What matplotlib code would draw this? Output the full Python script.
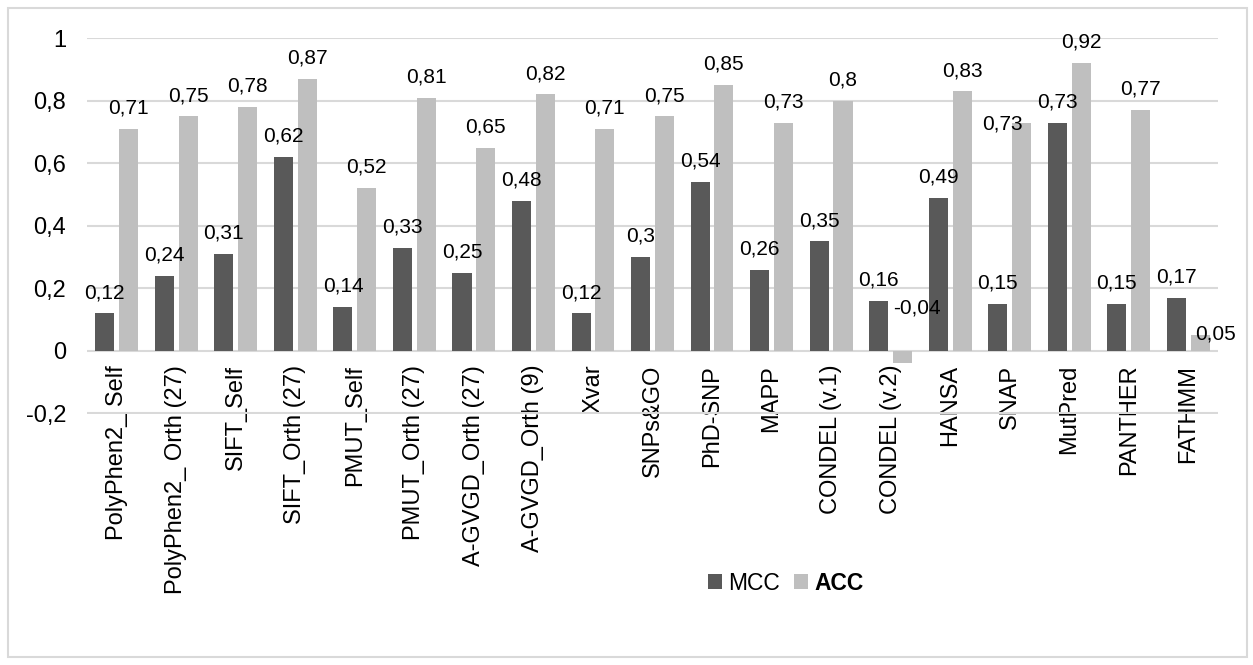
import matplotlib.pyplot as plt
import numpy as np
from matplotlib.patches import Rectangle

plt.rcParams['font.family'] = ['Liberation Sans', 'DejaVu Sans']

# tools compared
tools = ['PolyPhen2_ Self', 'PolyPhen2_ Orth (27)', 'SIFT_Self', 'SIFT_Orth (27)',
         'PMUT_Self', 'PMUT_Orth (27)', 'A-GVGD_Orth (27)', 'A-GVGD_Orth (9)',
         'Xvar', 'SNPs&GO', 'PhD-SNP', 'MAPP', 'CONDEL (v.1)', 'CONDEL (v.2)',
         'HANSA', 'SNAP', 'MutPred', 'PANTHER', 'FATHMM']
mcc = [0.12, 0.24, 0.31, 0.62, 0.14, 0.33, 0.25, 0.48, 0.12, 0.30,
       0.54, 0.26, 0.35, 0.16, 0.49, 0.15, 0.73, 0.15, 0.17]
acc = [0.71, 0.75, 0.78, 0.87, 0.52, 0.81, 0.65, 0.82, 0.71, 0.75,
       0.85, 0.73, 0.80, -0.04, 0.83, 0.73, 0.92, 0.77, 0.05]
yticks = [-0.2, 0, 0.2, 0.4, 0.6, 0.8, 1]

DARK = '#595959'
LIGHT = '#bfbfbf'
GRID = '#d9d9d9'


def fmt(v):
    return f'{v:g}'.replace('.', ',')


fig = plt.figure(figsize=(12.53, 6.65), dpi=100)
# chart frame
fig.patches.append(Rectangle((8 / 1253, 8 / 665), 1239 / 1253, 649 / 665,
                             transform=fig.transFigure, fill=False,
                             edgecolor=GRID, linewidth=1.5))

ax = fig.add_axes([87 / 1253, 1 - 413.6 / 665, 1131 / 1253, (413.6 - 38) / 665])
# category labels hang from the zero line
ax.spines['bottom'].set_position(('data', 0))

x = np.arange(len(tools))
w = 0.32
off = 0.20
b1 = ax.bar(x - off, mcc, w, color=DARK, label='MCC', zorder=3)
b2 = ax.bar(x + off, acc, w, color=LIGHT, label='ACC', zorder=3)

ax.set_xlim(-0.5, len(tools) - 0.5)
ax.set_ylim(-0.2005, 1.0005)
ax.set_yticks(yticks)
ax.set_yticklabels([fmt(t) for t in yticks])
ax.set_xticks(x)
ax.set_xticklabels(tools)
ax.tick_params(axis='both', length=0, labelsize=17)
ax.tick_params(axis='y', pad=15)
ax.tick_params(axis='x', pad=10, labelrotation=90)
ax.yaxis.grid(True, color=GRID, linewidth=1.5, zorder=0)
ax.set_axisbelow(True)
for s in ax.spines.values():
    s.set_visible(False)

# value labels
for i in range(len(tools)):
    ax.annotate(fmt(mcc[i]), (x[i] - off, mcc[i]), xytext=(0, 11),
                textcoords='offset points', ha='center', va='baseline', fontsize=15)
    a = acc[i]
    nxt = mcc[i + 1] if i + 1 < len(tools) else None
    if a < 0:
        # negative bar: label sits above the zero line
        ax.annotate(fmt(a), (x[i] + off - w / 2, 0), xytext=(0, 31),
                    textcoords='offset points', ha='left', va='center', fontsize=15)
    elif a < mcc[i]:
        # short bar next to a taller one: label to the right
        ax.annotate(fmt(a), (x[i] + off - w / 2, a), xytext=(3, 1),
                    textcoords='offset points', ha='left', va='center', fontsize=15)
    elif nxt is not None and abs(a - nxt) < 0.05:
        # would clash with the next MCC label: label to the left
        ax.annotate(fmt(a), (x[i] + off, a), xytext=(1, -1),
                    textcoords='offset points', ha='right', va='center', fontsize=15)
    else:
        ax.annotate(fmt(a), (x[i] + off, a), xytext=(0, 11),
                    textcoords='offset points', ha='center', va='baseline', fontsize=15)

leg = fig.legend(handles=[b1, b2], labels=['MCC', 'ACC'], ncol=2, frameon=False,
                 loc='center', bbox_to_anchor=(786 / 1253, 1 - 583 / 665),
                 fontsize=16.5, handlelength=0.6, handleheight=0.6,
                 handletextpad=0.3, columnspacing=0.6)
leg.get_texts()[1].set_fontweight('bold')

fig.savefig('out.png', dpi=100)
